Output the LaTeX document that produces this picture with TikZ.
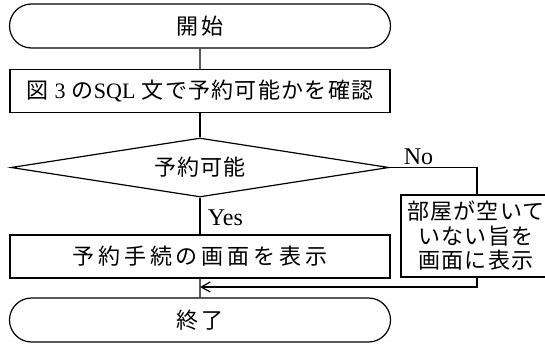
\documentclass[tikz,border=0pt]{standalone}
\usepackage{fontspec}
\setmainfont{Liberation Serif}
\newfontfamily\jp[LetterSpace=6]{Noto Sans CJK JP}
\newfontfamily\jpwide[LetterSpace=18]{Noto Sans CJK JP}
\usetikzlibrary{shapes.geometric,shapes.misc,arrows.meta}

\begin{document}
\begin{tikzpicture}[x=1pt,y=-1pt,
    every node/.style={font=\fontsize{22}{24.5}\selectfont},
    term/.style={draw,line width=1.2pt,rounded rectangle,minimum width=381pt,minimum height=44pt,inner sep=0pt},
    proc/.style={draw,line width=1.2pt,rectangle,minimum height=43pt,inner sep=0pt},
    decide/.style={draw,line width=1.2pt,diamond,aspect=6.4,minimum width=378pt,minimum height=59pt,inner sep=0pt},
    answer/.style={font=\fontsize{24}{26}\selectfont},
    flow/.style={line width=1.2pt}]
  \useasboundingbox (0,0) rectangle (545,345);
  \node[term] at (200,26) (start) {\jpwide 開始};
  \node[proc,minimum width=380pt] at (200,91) (check) {\jp 図~{\rmfamily 3}~の{\rmfamily SQL}~文で予約可能かを確認};
  \node[decide] at (200,167.5) (dec) {\jp 予約可能};
  \node[proc,minimum width=380pt] at (200,256.5) (yes) {\jpwide 予約手続の画面を表示};
  \node[proc,minimum width=150pt,minimum height=82pt,align=center] at (476,236) (nobox) {\jp 部屋が空いて\\\jp いない旨を\\\jp 画面に表示};
  \node[term] at (200,320) (end) {\jpwide 終了};
  \coordinate (nocorner) at (477,167.5);
  \coordinate (back) at (477,287);
  % main flow
  \draw[flow] (start) -- (check);
  \draw[flow] (check) -- (dec);
  \draw[flow] (dec.south) -- node[answer,anchor=west,pos=.55,xshift=4pt]{Yes} (yes.north);
  \draw[flow] (yes) -- (end);
  % no branch
  \draw[flow] (dec.east) -- node[answer,above,pos=.33,inner sep=2pt]{No} (nocorner) -- (nocorner |- nobox.north);
  \draw[flow,-{Straight Barb[length=9pt,width=10pt]}] (nocorner |- nobox.south) -- (back) -- (back -| end.north);
\end{tikzpicture}
\end{document}
